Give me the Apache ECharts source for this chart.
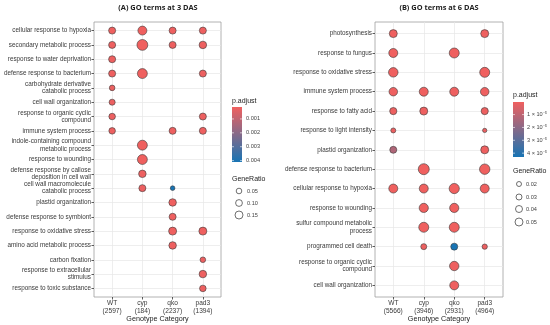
<!DOCTYPE html>
<html><head><meta charset="utf-8">
<script src="https://cdn.jsdelivr.net/npm/echarts@6/dist/echarts.min.js"></script>
<style>html,body{margin:0;padding:0;background:#fff}#c{width:550px;height:325px}</style>
</head><body><div id="c"></div>
<script>
// ---------- Panel A data (3 DAS) ----------
const genosA = ['WT\n(2597)', 'cyp\n(184)', 'qko\n(2237)', 'pad3\n(1394)'];
const termsA = [
  'cellular response to hypoxia',
  'secondary metabolic process',
  'response to water deprivation',
  'defense response to bacterium',
  'carbohydrate derivative\ncatabolic process',
  'cell wall organization',
  'response to organic cyclic\ncompound',
  'immune system process',
  'indole-containing compound\nmetabolic process',
  'response to wounding',
  'defense response by callose\ndeposition in cell wall',
  'cell wall macromolecule\ncatabolic process',
  'plastid organization',
  'defense response to symbiont',
  'response to oxidative stress',
  'amino acid metabolic process',
  'carbon fixation',
  'response to extracellular\nstimulus',
  'response to toxic substance'
];
// GeneRatio per genotype (null = not enriched), aligned with termsA
const ratioA_WT   = [0.11, 0.11, 0.11, 0.11, 0.05, 0.07, 0.09, 0.09, null, null, null, null, null, null, null, null, null, null, null];
const ratioA_cyp  = [0.19, 0.27, null, 0.23, null, null, null, null, 0.23, 0.23, 0.13, 0.11, null, null, null, null, null, null, null];
const ratioA_qko  = [0.11, 0.11, null, null, null, null, null, 0.11, null, null, null, 0.01, 0.13, 0.11, 0.15, 0.13, null, null, null];
const ratioA_pad3 = [0.11, 0.13, null, 0.11, null, null, 0.11, 0.11, null, null, null, null, null, null, 0.15, null, 0.05, 0.13, 0.09];
// p.adjust per genotype
const pA_WT   = [0.00016, 0.00018, 0.00020, 0.00017, 0.00025, 0.00022, 0.00021, 0.00019, null, null, null, null, null, null, null, null, null, null, null];
const pA_cyp  = [0.00015, 0.00014, null, 0.00015, null, null, null, null, 0.00016, 0.00015, 0.00020, 0.00022, null, null, null, null, null, null, null];
const pA_qko  = [0.00017, 0.00018, null, null, null, null, null, 0.00019, null, null, null, 0.0041, 0.00016, 0.00018, 0.00015, 0.00017, null, null, null];
const pA_pad3 = [0.00018, 0.00017, null, 0.00019, null, null, 0.00020, 0.00018, null, null, null, null, null, null, 0.00016, null, 0.00022, 0.00019, 0.00020];
const pTicksA = [0.001, 0.002, 0.003, 0.004];
const pTickLabelsA = ['0.001', '0.002', '0.003', '0.004'];
const ratioTicksA = [0.05, 0.10, 0.15];
const ratioTickLabelsA = ['0.05', '0.10', '0.15'];

// ---------- Panel B data (6 DAS) ----------
const genosB = ['WT\n(5566)', 'cyp\n(3946)', 'qko\n(2931)', 'pad3\n(4964)'];
const termsB = [
  'photosynthesis',
  'response to fungus',
  'response to oxidative stress',
  'immune system process',
  'response to fatty acid',
  'response to light intensity',
  'plastid organization',
  'defense response to bacterium',
  'cellular response to hypoxia',
  'response to wounding',
  'sulfur compound metabolic\nprocess',
  'programmed cell death',
  'response to organic cyclic\ncompound',
  'cell wall organization'
];
const ratioB_WT   = [0.05, 0.06, 0.065, 0.055, 0.042, 0.02, 0.04, null, 0.06, null, null, null, null, null];
const ratioB_cyp  = [null, null, null, 0.06, 0.05, null, null, 0.08, 0.06, 0.062, 0.07, 0.03, null, null];
const ratioB_qko  = [null, 0.07, null, 0.06, null, null, null, null, 0.072, 0.062, 0.07, 0.04, 0.064, 0.06];
const ratioB_pad3 = [0.05, null, 0.07, 0.055, 0.042, 0.013, 0.05, 0.074, 0.06, null, null, 0.023, null, null];
const pB_WT   = [3e-7, 2e-7, 4e-7, 5e-7, 8e-7, 1.2e-6, 1.3e-5, null, 3e-7, null, null, null, null, null];
const pB_cyp  = [null, null, null, 4e-7, 6e-7, null, null, 2e-7, 3e-7, 4e-7, 3e-7, 9e-7, null, null];
const pB_qko  = [null, 3e-7, null, 5e-7, null, null, null, null, 2e-7, 3e-7, 4e-7, 4.3e-5, 5e-7, 6e-7];
const pB_pad3 = [4e-7, null, 3e-7, 5e-7, 7e-7, 1.5e-6, 6e-7, 3e-7, 4e-7, null, null, 1.1e-6, null, null];
const pTicksB = [1e-5, 2e-5, 3e-5, 4e-5];
const pTickLabelsB = ['1 \u00d7 10\u207b\u2075', '2 \u00d7 10\u207b\u2075', '3 \u00d7 10\u207b\u2075', '4 \u00d7 10\u207b\u2075'];
const ratioTicksB = [0.02, 0.03, 0.04, 0.05];
const ratioTickLabelsB = ['0.02', '0.03', '0.04', '0.05'];

// ---------- helpers ----------
const LOW = '#F0605F', HIGH = '#1874B4';
const FONT = 'Liberation Sans, Arial, sans-serif';
const sizeA = r => 4.4 + 24 * r;
const sizeB = r => 3 + 100 * r;

function buildPoints(ratioCols, pCols) {
  const pts = [];
  ratioCols.forEach((col, g) => {
    col.forEach((r, t) => {
      if (r != null) pts.push([g, t, r, pCols[g][t]]);
    });
  });
  return pts;
}
const ptsA = buildPoints([ratioA_WT, ratioA_cyp, ratioA_qko, ratioA_pad3], [pA_WT, pA_cyp, pA_qko, pA_pad3]);
const ptsB = buildPoints([ratioB_WT, ratioB_cyp, ratioB_qko, ratioB_pad3], [pB_WT, pB_cyp, pB_qko, pB_pad3]);
const rangeP = pts => [Math.min(...pts.map(p => p[3])), Math.max(...pts.map(p => p[3]))];
const pRangeA = rangeP(ptsA), pRangeB = rangeP(ptsB);

const panels = [
  {left: 94, width: 127, genos: genosA, terms: termsA},
  {left: 375, width: 128, genos: genosB, terms: termsB}
];
const TOP = 22, H = 275;

function xAxisFor(i) {
  const p = panels[i];
  const vals = p.genos.map((_, k) => k);
  return {
    type: 'value', gridIndex: i, min: -0.6, max: p.genos.length - 0.4, position: 'bottom',
    axisLine: {show: false, onZero: false},
    axisTick: {show: true, length: 2.5, customValues: vals, lineStyle: {color: '#333', width: 0.8}},
    axisLabel: {customValues: vals, formatter: v => p.genos[Math.round(v)] || '', fontSize: 6.6, lineHeight: 8,
      color: '#3a3a3a', fontFamily: FONT, margin: 2},
    splitLine: {show: true, lineStyle: {color: '#e6e6e6', width: 0.7}},
    name: 'Genotype Category', nameLocation: 'middle', nameGap: 19, nameMoveOverlap: false,
    nameTextStyle: {fontSize: 7.2, color: '#222', fontFamily: FONT}
  };
}
function yAxisFor(i) {
  const p = panels[i];
  const vals = p.terms.map((_, k) => k);
  return {
    type: 'value', gridIndex: i, inverse: true, min: -0.6, max: p.terms.length - 0.4, position: 'left',
    axisLine: {show: false, onZero: false},
    axisTick: {show: true, length: 2.5, customValues: vals, lineStyle: {color: '#333', width: 0.8}},
    axisLabel: {customValues: vals, formatter: v => p.terms[Math.round(v)] || '', fontSize: 6.35, lineHeight: 7.2,
      color: '#3a3a3a', fontFamily: FONT, margin: 3},
    splitLine: {show: true, lineStyle: {color: '#e6e6e6', width: 0.7}}
  };
}

function colorbar(x, top, w, h, ticks, labels, range, labelX) {
  const els = [{
    type: 'rect', shape: {x: x, y: top, width: w, height: h},
    style: {fill: new echarts.graphic.LinearGradient(0, 0, 0, 1, [{offset: 0, color: LOW}, {offset: 1, color: HIGH}])}
  }];
  ticks.forEach((v, k) => {
    const y = top + (v - range[0]) / (range[1] - range[0]) * h;
    els.push({type: 'line', shape: {x1: x, y1: y, x2: x + 2, y2: y}, style: {stroke: '#fff', lineWidth: 0.6}});
    els.push({type: 'line', shape: {x1: x + w - 2, y1: y, x2: x + w, y2: y}, style: {stroke: '#fff', lineWidth: 0.6}});
    els.push({type: 'text', style: {text: labels[k], x: labelX, y: y, fontSize: 5.6, fontFamily: FONT, fill: '#444',
      textAlign: 'left', textVerticalAlign: 'middle'}});
  });
  return els;
}
function sizeLegend(cx, ys, ticks, labels, sizeFn, labelX) {
  const els = [];
  ticks.forEach((v, k) => {
    els.push({type: 'circle', shape: {cx: cx, cy: ys[k], r: sizeFn(v) / 2}, style: {fill: '#fff', stroke: '#333', lineWidth: 0.7}});
    els.push({type: 'text', style: {text: labels[k], x: labelX, y: ys[k], fontSize: 5.6, fontFamily: FONT, fill: '#444',
      textAlign: 'left', textVerticalAlign: 'middle'}});
  });
  return els;
}
function txt(t, x, y, size, extra) {
  return {type: 'text', style: Object.assign({text: t, x: x, y: y, fontSize: size, fontFamily: FONT, fill: '#222',
    textAlign: 'left', textVerticalAlign: 'middle'}, extra || {})};
}

const graphics = [].concat(
  [txt('(A) GO terms at 3 DAS', 158, 8, 7.4, {textAlign: 'center', fontWeight: 'bold', fontFamily: 'Open Sans, sans-serif'}),
   txt('(B) GO terms at 6 DAS', 439, 8, 7.4, {textAlign: 'center', fontWeight: 'bold', fontFamily: 'Open Sans, sans-serif'}),
   txt('p.adjust', 232, 101, 7),
   txt('GeneRatio', 232, 179, 7),
   txt('p.adjust', 513, 95, 7),
   txt('GeneRatio', 513, 171, 7)],
  colorbar(232, 107, 10, 55, pTicksA, pTickLabelsA, pRangeA, 246),
  colorbar(513, 102, 11, 55, pTicksB, pTickLabelsB, pRangeB, 527),
  sizeLegend(239, [191, 203, 215], ratioTicksA, ratioTickLabelsA, sizeA, 247),
  sizeLegend(519, [184, 197, 209, 222], ratioTicksB, ratioTickLabelsB, sizeB, 526)
);

const chart = echarts.init(document.getElementById('c'), null, {renderer: 'canvas'});
chart.setOption({
  animation: false,
  backgroundColor: '#fff',
  grid: panels.map(p => ({left: p.left, top: TOP, width: p.width, height: H, show: true,
    outerBoundsMode: 'none', containLabel: false,
    borderColor: '#a0a0a0', borderWidth: 0.8, backgroundColor: '#fff'})),
  xAxis: [xAxisFor(0), xAxisFor(1)],
  yAxis: [yAxisFor(0), yAxisFor(1)],
  visualMap: [
    {type: 'continuous', show: false, seriesIndex: 0, dimension: 3, min: pRangeA[0], max: pRangeA[1], inRange: {color: [LOW, HIGH]}},
    {type: 'continuous', show: false, seriesIndex: 1, dimension: 3, min: pRangeB[0], max: pRangeB[1], inRange: {color: [LOW, HIGH]}}
  ],
  series: [
    {type: 'scatter', xAxisIndex: 0, yAxisIndex: 0, data: ptsA, symbolSize: v => sizeA(v[2]),
      itemStyle: {opacity: 1, borderColor: '#3a3a3a', borderWidth: 0.6}},
    {type: 'scatter', xAxisIndex: 1, yAxisIndex: 1, data: ptsB, symbolSize: v => sizeB(v[2]),
      itemStyle: {opacity: 1, borderColor: '#3a3a3a', borderWidth: 0.6}}
  ],
  graphic: graphics
});
</script>
</body></html>
